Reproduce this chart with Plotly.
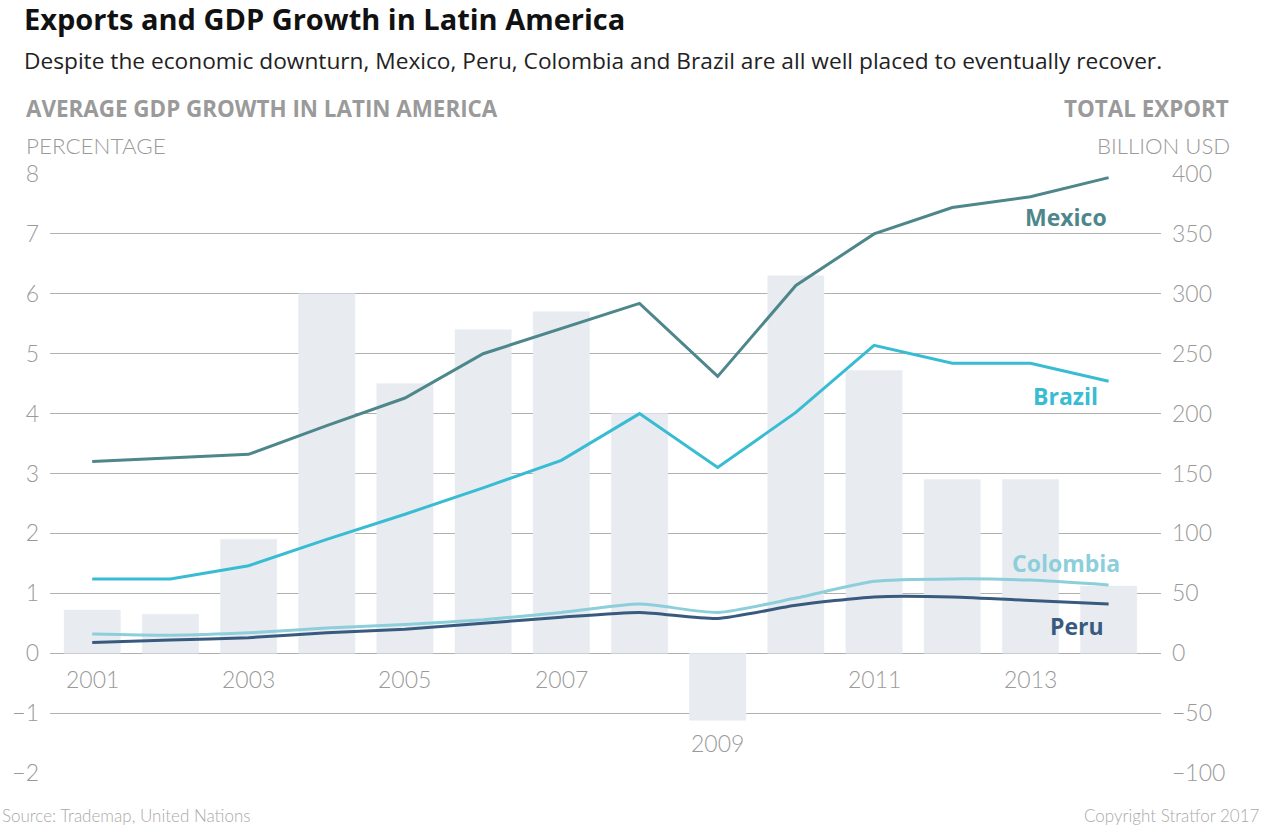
import plotly.graph_objects as go

years = list(range(2001, 2015))
gdp_growth = [0.72, 0.65, 1.9, 6.0, 4.5, 5.4, 5.7, 4.0, -1.12, 6.3, 4.72, 2.9, 2.9, 1.12]
mexico = [160, 163, 166, 190, 213, 250, 271, 292, 231, 307, 350, 372, 381, 397]
brazil = [62, 62, 73, 95, 116, 138, 161, 200, 155, 201, 257, 242, 242, 227]
colombia = [16, 15, 17, 21, 24, 28, 34, 41, 34, 46, 60, 62, 61, 57]
peru = [9, 11, 13, 17, 20, 25, 30, 34, 29, 40, 47, 47, 44, 41]
year_labels = [2001, 2003, 2005, 2007, 2009, 2011, 2013]

FONT = "Lato"
TFONT = "Open Sans"
GRAY = "#9a9a9a"
C_MEX = "#4d878b"
C_BRA = "#38bcd3"
C_COL = "#8ccfdb"
C_PER = "#395a7f"

fig = go.Figure()
fig.add_trace(go.Bar(x=years, y=gdp_growth, marker_color="#e8ebf0", width=0.72,
                     yaxis="y", showlegend=False, hoverinfo="skip"))
for name, vals, col, shape in [("Colombia", colombia, C_COL, "spline"),
                               ("Peru", peru, C_PER, "spline"),
                               ("Brazil", brazil, C_BRA, "linear"),
                               ("Mexico", mexico, C_MEX, "linear")]:
    fig.add_trace(go.Scatter(x=years, y=vals, mode="lines", name=name, yaxis="y2",
                             line=dict(color=col, width=3, shape=shape, smoothing=0.6),
                             showlegend=False))

annotations = []
for yr in year_labels:
    val = gdp_growth[years.index(yr)]
    annotations.append(dict(x=yr, y=0, xref="x", yref="y", text=str(yr), showarrow=False,
                            yshift=(-90 if val < 0 else -26),
                            font=dict(family=FONT, size=23, color=GRAY, weight=300)))

def py2paper(py):
    return 1 - (py - 174) / 599

labels = [("Mexico", 2013.45, 217, C_MEX), ("Brazil", 2013.45, 396, C_BRA),
          ("Colombia", 2013.45, 563, C_COL), ("Peru", 2013.6, 626, C_PER)]
for txt, xv, py, col in labels:
    annotations.append(dict(x=xv, y=py2paper(py), xref="x", yref="paper", text=txt,
                            showarrow=False, xanchor="center", yanchor="middle",
                            font=dict(family=TFONT, size=23, color=col, weight=700)))

def ptext(text, x, y, size, color, weight=400, xanchor="left", family=TFONT):
    annotations.append(dict(x=x, y=y, xref="paper", yref="paper", text=text, showarrow=False,
                            xanchor=xanchor, yanchor="middle",
                            font=dict(family=family, size=size, color=color, weight=weight)))

ptext("Exports and GDP Growth in Latin America", -28 / 1111, py2paper(19), 29, "#111111", 700)
ptext("Despite the economic downturn, Mexico, Peru, Colombia and Brazil are all well placed to eventually recover.",
      -28 / 1111, py2paper(60), 22.7, "#222222", 400)
ptext("AVERAGE GDP GROWTH IN LATIN AMERICA", -26 / 1111, py2paper(108), 22.4, GRAY, 700)
ptext("PERCENTAGE", -26 / 1111, py2paper(146), 22.4, GRAY, 300, family=FONT)
ptext("TOTAL EXPORT", (1231 - 50) / 1111, py2paper(108), 22.4, GRAY, 700, "right")
ptext("BILLION USD", (1232 - 50) / 1111, py2paper(146), 22.2, GRAY, 300, "right", family=FONT)
ptext("Source: Trademap, United Nations", -50 / 1111, py2paper(815), 17, "#aaaaaa", 300, family=FONT)
ptext("Copyright Stratfor 2017", (1262 - 50) / 1111, py2paper(815), 17, "#aaaaaa", 300, "right", family=FONT)

fig.update_layout(
    width=1264, height=826,
    margin=dict(l=50, r=103, t=174, b=53),
    paper_bgcolor="white", plot_bgcolor="white",
    bargap=0.28,
    xaxis=dict(range=[2000.46, 2014.67], showticklabels=False, showgrid=False,
               zeroline=False, ticks=""),
    yaxis=dict(range=[-2, 8], dtick=1, showgrid=True, gridcolor="#b0b0b0", gridwidth=1,
               zeroline=False, ticks="", tickfont=dict(family=FONT, size=23, color=GRAY, weight=300),
               ticklabelstandoff=10, tickformat="d"),
    yaxis2=dict(range=[-100, 400], dtick=50, overlaying="y", side="right", showgrid=False,
                zeroline=False, ticks="", tickfont=dict(family=FONT, size=23, color=GRAY, weight=300),
                ticklabelstandoff=10),
    annotations=annotations,
)
fig.write_html("out.html")
